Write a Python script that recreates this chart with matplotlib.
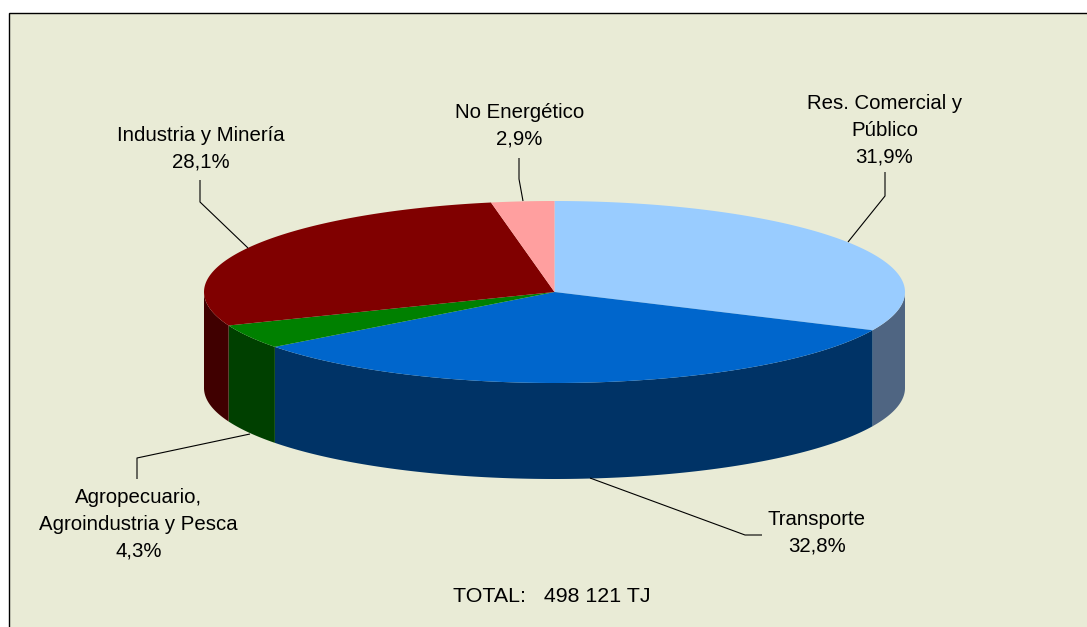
import numpy as np
import matplotlib
matplotlib.use("Agg")
import matplotlib.pyplot as plt
from matplotlib.patches import Polygon, Rectangle

categories = ["Res. Comercial y\nPúblico", "Transporte", "Agropecuario,\nAgroindustria y Pesca", "Industria y Minería", "No Energético"]
shares = [31.9, 32.8, 4.3, 28.1, 2.9]
share_labels = ["31,9%", "32,8%", "4,3%", "28,1%", "2,9%"]
top_colors = ["#99ccff", "#0066cc", "#008000", "#800000", "#ff9f9f"]
side_colors = ["#4f6582", "#003366", "#004000", "#400000", "#805050"]
total_label = "TOTAL:   498 121 TJ"

W, H = 1087, 627
CX, CY, RX, RY, DEPTH = 554.5, 292, 350.5, 91, 96
BG = "#e9ebd6"

# label text centres and leader lines, in pixels
label_pos = [(884.5, 130), (817, 533), (138.5, 524), (201, 149), (519.5, 126)]
leaders = [
    [(848, 242), (885, 196), (885, 172)],
    [(590, 478), (745, 535), (762, 535)],
    [(250, 434), (137, 458), (137, 479)],
    [(248, 248), (200, 202), (200, 180)],
    [(523, 201), (519, 179), (519, 158)],
]


def rim(a0, a1, n=120):
    # angles in degrees, clockwise from 12 o'clock
    a = np.radians(np.linspace(a0, a1, n))
    return CX + RX * np.sin(a), CY - RY * np.cos(a)


plt.rcParams["font.family"] = ["Liberation Sans", "DejaVu Sans"]
fig = plt.figure(figsize=(W / 100, H / 100), dpi=100, facecolor="white")
ax = fig.add_axes([0, 0, 1, 1])
ax.set_xlim(0, W)
ax.set_ylim(H, 0)
ax.axis("off")

ax.add_patch(Rectangle((9, 13), W + 20, H + 20, facecolor=BG, edgecolor="black", linewidth=1, zorder=0))

edges = np.concatenate([[0], np.cumsum(shares)]) * 360 / 100

# side wall, only the front half of the rim is visible
for a0, a1, color in zip(edges[:-1], edges[1:], side_colors):
    lo, hi = max(a0, 90), min(a1, 270)
    if lo >= hi:
        continue
    x, y = rim(lo, hi)
    pts = np.column_stack([np.r_[x, x[::-1]], np.r_[y, y[::-1] + DEPTH]])
    ax.add_patch(Polygon(pts, closed=True, facecolor=color, edgecolor="none", zorder=1))

for a0, a1, color in zip(edges[:-1], edges[1:], top_colors):
    x, y = rim(a0, a1)
    pts = np.column_stack([np.r_[CX, x], np.r_[CY, y]])
    ax.add_patch(Polygon(pts, closed=True, facecolor=color, edgecolor="none", zorder=2))

for pts in leaders:
    xs, ys = zip(*pts)
    ax.plot(xs, ys, color="black", linewidth=0.8, zorder=3, solid_capstyle="butt")

for name, share, (tx, ty) in zip(categories, share_labels, label_pos):
    ax.text(tx, ty, f"{name}\n{share}", ha="center", va="center", fontsize=14.7,
            linespacing=1.53, color="black", zorder=4)

ax.text(551.5, 596, total_label, ha="center", va="center", fontsize=15.4, color="black", zorder=4)

fig.savefig("out.png", dpi=100, facecolor="white")
